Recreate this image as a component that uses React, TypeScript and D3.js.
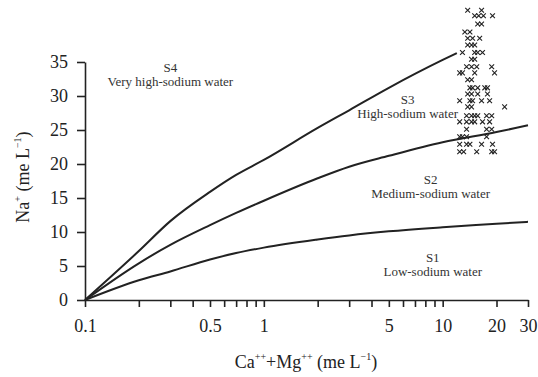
import React from "react";
import * as d3 from "d3";

// boundary lines between the sodium hazard classes
const s4LineCaMg = [0.1, 0.2, 0.3, 0.5, 0.7, 1, 2, 3, 5, 10, 12];
const s4LineNa = [0, 7.2, 11.6, 15.9, 18.4, 20.6, 25.3, 27.9, 31.2, 35.3, 36.3];
const lineCaMg = [0.1, 0.2, 0.3, 0.5, 0.7, 1, 2, 3, 5, 10, 20, 30];
const s3LineNa = [0, 5.4, 8.1, 11.0, 12.8, 14.6, 17.9, 19.6, 21.2, 23.2, 24.7, 25.7];
const s2LineNa = [0, 2.9, 4.2, 5.95, 6.9, 7.7, 8.9, 9.5, 10.1, 10.7, 11.2, 11.5];

// water samples
const sampleCaMg = [
  13.8, 16.5,
  15.1, 15.9, 16.9, 19.0,
  15.7, 16.5,
  13.3, 14.2,
  13.8, 14.7, 16.1,
  13.8, 14.5, 15.1,
  12.9, 15.1, 15.7, 16.7,
  14.5, 15.1,
  13.6, 14.5, 15.5, 18.8,
  12.45, 12.9, 15.1, 19.5,
  13.8, 14.5,
  14.2, 14.7, 15.7, 17.2, 17.8,
  13.8, 14.5, 15.7, 17.8,
  12.45, 14.2, 14.7, 16.5, 18.3,
  13.8, 14.5, 22.2,
  13.6, 14.5, 15.1, 15.7, 17.6, 18.8,
  12.45, 13.6, 14.5, 15.1, 16.7, 18.3,
  13.6, 17.6, 18.8,
  12.45, 12.9, 13.6, 17.6,
  12.45, 13.6, 14.2, 16.5, 19.0,
  12.45, 13.1, 15.5, 18.8, 19.5,
];
const sampleNa = [
  42.6, 42.6,
  41.8, 41.8, 41.8, 41.8,
  40.6, 40.6,
  39.4, 39.4,
  38.5, 38.5, 38.5,
  37.5, 37.5, 37.5,
  36.4, 36.4, 36.4, 36.4,
  35.4, 35.4,
  34.3, 34.3, 34.3, 34.3,
  33.4, 33.4, 33.4, 33.4,
  32.4, 32.4,
  31.2, 31.2, 31.2, 31.2, 31.2,
  30.3, 30.3, 30.3, 30.3,
  29.3, 29.3, 29.3, 29.3, 29.3,
  28.4, 28.4, 28.4,
  27.1, 27.1, 27.1, 27.1, 27.1, 27.1,
  26.2, 26.2, 26.2, 26.2, 26.2, 26.2,
  25.1, 25.1, 25.1,
  24.0, 24.0, 24.0, 24.0,
  22.9, 22.9, 22.9, 22.9, 22.9,
  21.8, 21.8, 21.8, 21.8, 21.8,
];

const xTicks = [
  0.1, 0.2, 0.3, 0.4, 0.5, 0.6, 0.7, 0.8, 0.9,
  1, 2, 3, 4, 5, 6, 7, 8, 9,
  10, 20, 30,
];
const xLabels = [0.1, 0.5, 1, 5, 10, 20, 30];
const yTicks = [0, 5, 10, 15, 20, 25, 30, 35];

const classNames = ["S4", "S3", "S2", "S1"];
const classTexts = [
  "Very high-sodium water",
  "High-sodium water",
  "Medium-sodium water",
  "Low-sodium water",
];
const classCaMg = [0.3, 6.37, 8.57, 8.8];
const classNa = [33.5, 28.8, 17.1, 5.6];

const width = 538;
const height = 377;
const font = "'Liberation Serif', 'Times New Roman', serif";
const ink = "#222";

function drawChart(svg) {
  svg.selectAll("*").remove();

  const x = d3.scaleLog().domain([0.1, 30]).range([85, 528]);
  const y = d3.scaleLinear().domain([0, 35]).range([300, 62]);

  const styleAxis = (g) => {
    g.attr("font-family", font).attr("font-size", 18);
    g.selectAll("line,path").attr("stroke", ink).attr("stroke-width", 1.6);
    g.selectAll("text")
      .attr("fill", ink)
      .style("font-family", font)
      .style("font-size", "18px");
  };

  svg
    .append("g")
    .attr("transform", `translate(0,${y(0)})`)
    .call(
      d3
        .axisBottom(x)
        .tickValues(xTicks)
        .tickSize(7)
        .tickSizeOuter(0)
        .tickPadding(12)
        .tickFormat((d) => (xLabels.includes(d) ? String(d) : ""))
    )
    .call(styleAxis);

  svg
    .append("g")
    .attr("transform", `translate(${x(0.1)},0)`)
    .call(d3.axisLeft(y).tickValues(yTicks).tickSize(8).tickSizeOuter(0).tickPadding(9))
    .call(styleAxis);

  const line = d3
    .line()
    .curve(d3.curveMonotoneX)
    .x((d) => x(d[0]))
    .y((d) => y(d[1]));

  const boundaries = [
    d3.zip(s4LineCaMg, s4LineNa),
    d3.zip(lineCaMg, s3LineNa),
    d3.zip(lineCaMg, s2LineNa),
  ];

  svg
    .append("g")
    .selectAll("path")
    .data(boundaries)
    .join("path")
    .attr("fill", "none")
    .attr("stroke", ink)
    .attr("stroke-width", 2)
    .attr("stroke-linejoin", "round")
    .attr("d", line);

  const samples = d3.zip(sampleCaMg, sampleNa);
  const r = 2.4;
  svg
    .append("g")
    .selectAll("path")
    .data(samples)
    .join("path")
    .attr("fill", "none")
    .attr("stroke", ink)
    .attr("stroke-width", 1.1)
    .attr("d", (d) => {
      const cx = x(d[0]);
      const cy = y(d[1]);
      return `M${cx - r},${cy - r}L${cx + r},${cy + r}M${cx - r},${cy + r}L${cx + r},${cy - r}`;
    });

  const labels = svg
    .append("g")
    .attr("font-family", font)
    .attr("font-size", 13)
    .attr("fill", "#333")
    .attr("text-anchor", "middle");

  classNames.forEach((name, i) => {
    const cx = x(classCaMg[i]);
    const cy = y(classNa[i]);
    labels.append("text").attr("x", cx).attr("y", cy).text(name);
    labels.append("text").attr("x", cx).attr("y", cy + 14).text(classTexts[i]);
  });

  // x axis title
  const xt = svg
    .append("text")
    .attr("x", 306)
    .attr("y", 368)
    .attr("text-anchor", "middle")
    .attr("font-family", font)
    .attr("font-size", 18)
    .attr("fill", ink);
  xt.append("tspan").text("Ca");
  xt.append("tspan").attr("font-size", 10).attr("dy", -8).text("++");
  xt.append("tspan").attr("dy", 8).text("+Mg");
  xt.append("tspan").attr("font-size", 10).attr("dy", -8).text("++");
  xt.append("tspan").attr("dy", 8).text(" (me L");
  xt.append("tspan").attr("font-size", 10).attr("dy", -8).text("\u22121");
  xt.append("tspan").attr("dy", 8).text(")");

  // y axis title
  const yt = svg
    .append("text")
    .attr("transform", "translate(29,177) rotate(-90)")
    .attr("text-anchor", "middle")
    .attr("font-family", font)
    .attr("font-size", 18)
    .attr("fill", ink);
  yt.append("tspan").text("Na");
  yt.append("tspan").attr("font-size", 10).attr("dy", -8).text("+");
  yt.append("tspan").attr("dy", 8).text(" (me L");
  yt.append("tspan").attr("font-size", 10).attr("dy", -8).text("\u22121");
  yt.append("tspan").attr("dy", 8).text(")");

  return svg.node();
}

export default function App() {
  const ref = React.useRef(null);
  React.useEffect(() => {
    drawChart(d3.select(ref.current));
  }, []);

  return (
    <svg
      ref={ref}
      width={width}
      height={height}
      style={{ position: "absolute", left: 0, top: 0, background: "#fff" }}
    />
  );
}
